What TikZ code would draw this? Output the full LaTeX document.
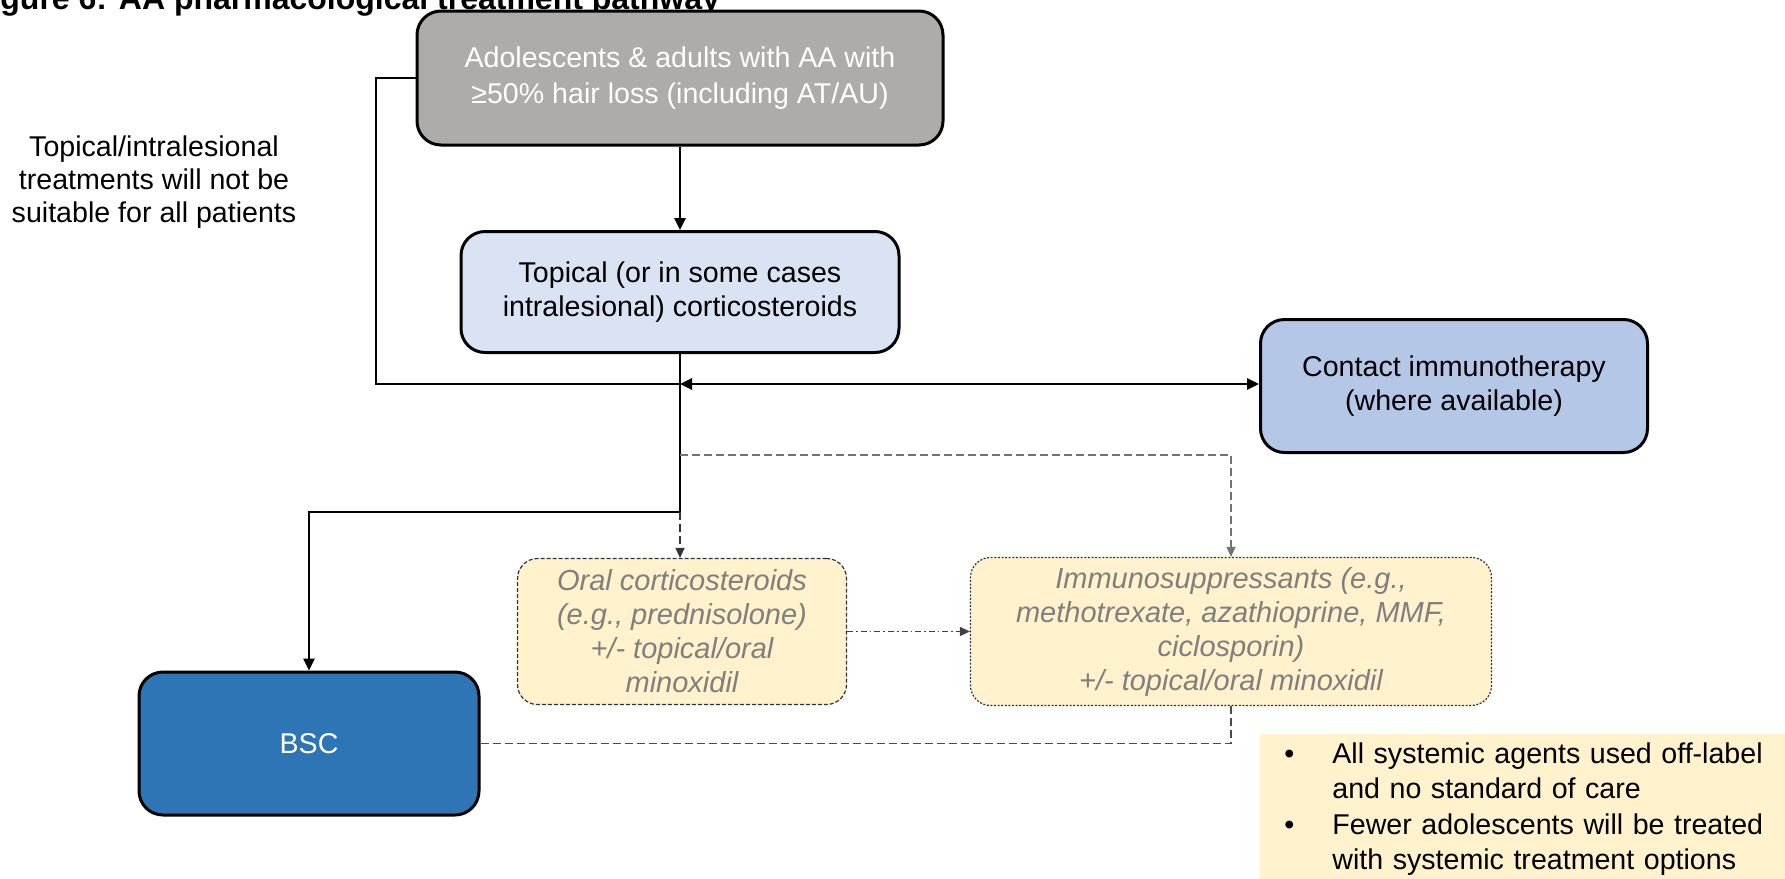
\documentclass[tikz,border=0pt]{standalone}
\usepackage{fontspec}
\setmainfont{Liberation Sans}
\usepackage{tikz}
\usetikzlibrary{positioning,arrows.meta,calc}
\definecolor{ink}     {HTML}{000000}
\definecolor{stone}   {HTML}{AEABAB}
\definecolor{iceblue} {HTML}{DAE3F3}
\definecolor{skyblue} {HTML}{B4C7E7}
\definecolor{deepblue}{HTML}{2E75B6}
\definecolor{cream}   {HTML}{FFF2CC}
\definecolor{slate}   {HTML}{7F7F7F}
\tikzset{
  >={Triangle[length=6pt,width=5.5pt]},
  every node/.style={font=\fontsize{14.3}{17}\selectfont},
  % --- nodes
  box/.style    = {rounded corners=12pt, draw=ink, line width=1.5pt, align=center,
                   inner sep=4pt, text=ink},
  popbox/.style = {box, fill=stone, text=white, minimum width=263pt, minimum height=67pt,
                   font=\fontsize{14.3}{17.8}\selectfont},
  topbox/.style = {box, fill=iceblue, minimum width=219pt, minimum height=60.5pt},
  cibox/.style  = {box, fill=skyblue, minimum width=193.5pt, minimum height=66.5pt},
  bscbox/.style = {box, fill=deepblue, text=white, minimum width=170pt, minimum height=71.5pt},
  sysbox/.style = {box, rounded corners=10pt, fill=cream, draw=ink!80, line width=0.6pt,
                   dash pattern=on 2pt off 1pt, text=slate, font=\fontsize{14.5}{17}\selectfont\itshape},
  notebox/.style= {fill=cream, align=left, inner xsep=12pt, text width=250pt,
                   minimum height=75pt, font=\fontsize{14.3}{17.8}\selectfont},
  lbl/.style    = {align=center, font=\fontsize{14.3}{16.5}\selectfont},
  % --- edges
  e/.style      = {line width=1.3pt, draw=ink},
  ed/.style     = {line width=0.6pt, draw=ink!55, dash pattern=on 4pt off 2pt,
                   >={Triangle[length=5pt,width=4.5pt]}},
  edd/.style    = {line width=0.6pt, draw=ink!75, dash pattern=on 3pt off 1.5pt on 0.8pt off 1.5pt,
                   >={Triangle[length=5pt,width=4.5pt]}},
}
\begin{document}
\begin{tikzpicture}[x=0.5pt,y=-0.5pt]
  \useasboundingbox (0,0) rectangle (1785,879);

  \node[anchor=base west, inner sep=0pt, font=\fontsize{16}{19}\selectfont\bfseries] (title)
    at (0,9.5) {gure 6: AA pharmacological treatment pathway};

  \node[popbox] (pop) at (680,78) {Adolescents \& adults with AA with\\≥50\% hair loss (including AT/AU)};
  \node[topbox] (topic) at (680,292) {Topical (or in some cases\\intralesional) corticosteroids};
  \node[cibox] (contact) at (1454,386) {Contact immunotherapy\\(where available)};
  \node[sysbox, minimum width=164.5pt, minimum height=73pt] (oral) at (682,631.5)
    {Oral corticosteroids\\(e.g., prednisolone)\\+/- topical/oral\\minoxidil};
  \node[sysbox, minimum width=260.5pt, minimum height=74pt, dash pattern=on 1pt off 0.8pt] (immuno) at (1231,631.5)
    {Immunosuppressants (e.g.,\\methotrexate, azathioprine, MMF,\\ciclosporin)\\+/- topical/oral minoxidil};
  \node[bscbox] (bsc) at (309,743.5) {BSC};

  \node[lbl] (caveat) at (154,182) {Topical/intralesional\\treatments will not be\\suitable for all patients};
  \node[notebox, anchor=west] (note) at (1260,809)
    {\makebox[24pt][l]{\textbullet}All systemic agents used off-label\\
     \hspace*{24pt}and no standard of care\\
     \makebox[24pt][l]{\textbullet}Fewer adolescents will be treated\\
     \hspace*{24pt}with systemic treatment options};

  \coordinate (lft)   at (376,384);
  \coordinate (jn)    at (680,384);
  \coordinate (dfork) at (680,455);
  \coordinate (fork)  at (680,512);

  % solid pathway
  \draw[e] (pop.west) -| (lft) -- (jn);
  \draw[e,->] (pop) -- (topic);
  \draw[e] (topic) -- (jn);
  \draw[e,<->] (jn) -- (jn -| contact.west);
  \draw[e,->] (jn) -- (fork) -| (bsc.north);

  % systemic options
  \draw[ed,->] (dfork) -| (immuno.north);
  \draw[ed,draw=ink!80,->] (fork) -- (fork |- oral.north);
  \draw[edd,->] (oral) -- (immuno);
  \draw[ed,draw=ink!70] (bsc.east) -| (immuno.south);
\end{tikzpicture}
\end{document}
